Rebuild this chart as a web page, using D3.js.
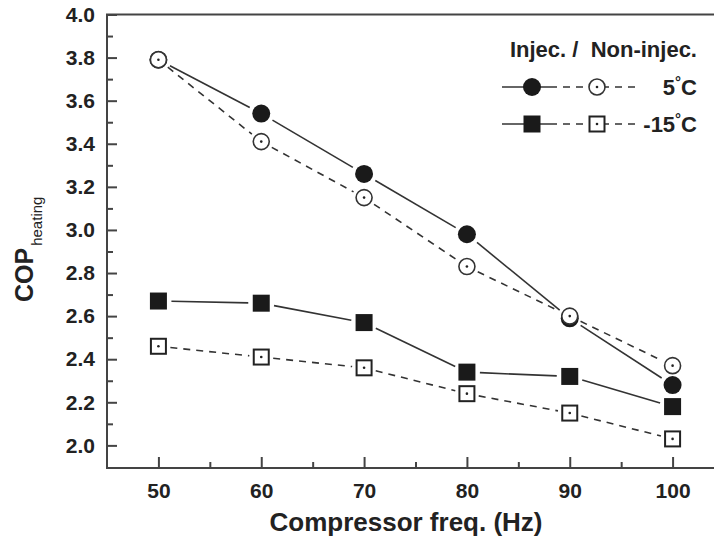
<!DOCTYPE html>
<html>
<head>
<meta charset="utf-8">
<script src="https://cdn.jsdelivr.net/npm/d3@7"></script>
<style>
  body { margin: 0; background: #fff; }
  text { font-family: "Liberation Sans", Arial, sans-serif; font-weight: bold; fill: #222; }
</style>
</head>
<body>
<div id="chart"></div>
<script>
var freq = [50, 60, 70, 80, 90, 100];
var injec5 = [3.79, 3.54, 3.26, 2.98, 2.59, 2.28];
var nonInjec5 = [3.79, 3.41, 3.15, 2.83, 2.60, 2.37];
var injecM15 = [2.67, 2.66, 2.57, 2.34, 2.32, 2.18];
var nonInjecM15 = [2.46, 2.41, 2.36, 2.24, 2.15, 2.03];

var xTicks = [50, 60, 70, 80, 90, 100];
var xMinor = [55, 65, 75, 85, 95];
var yTicks = [2.0, 2.2, 2.4, 2.6, 2.8, 3.0, 3.2, 3.4, 3.6, 3.8, 4.0];
var yMinor = [2.1, 2.3, 2.5, 2.7, 2.9, 3.1, 3.3, 3.5, 3.7, 3.9];

var legendRows = [
  { label: "5", shape: "circle" },
  { label: "-15", shape: "square" }
];

var width = 714, height = 545;
var ink = "#222", lineCol = "#333", frameCol = "#444";

var svg = d3.select("#chart").append("svg")
  .attr("width", width)
  .attr("height", height);

var x = d3.scaleLinear().domain([45, 105]).range([107, 724]);
var y = d3.scaleLinear().domain([1.895, 4.0]).range([468, 14.5]);

// frame
svg.append("rect")
  .attr("x", x(45)).attr("y", y(4.0))
  .attr("width", x(105) - x(45)).attr("height", y(1.895) - y(4.0))
  .attr("fill", "none").attr("stroke", frameCol).attr("stroke-width", 2);

// axes
function styleAxis(g) {
  g.select(".domain").remove();
  g.selectAll(".tick line").attr("stroke", frameCol).attr("stroke-width", 2);
  g.selectAll("text").attr("fill", ink).style("font-size", "21px");
}

svg.append("g")
  .attr("transform", "translate(0," + y(1.895) + ")")
  .call(d3.axisBottom(x).tickValues(xTicks).tickSize(-11).tickPadding(15).tickFormat(d3.format("d")))
  .call(styleAxis);
svg.append("g")
  .attr("transform", "translate(0," + y(1.895) + ")")
  .call(d3.axisBottom(x).tickValues(xMinor).tickSize(-6).tickFormat(""))
  .call(styleAxis);
svg.append("g")
  .attr("transform", "translate(" + x(45) + ",0)")
  .call(d3.axisLeft(y).tickValues(yTicks).tickSize(-10).tickPadding(12).tickFormat(d3.format(".1f")))
  .call(styleAxis);
svg.append("g")
  .attr("transform", "translate(" + x(45) + ",0)")
  .call(d3.axisLeft(y).tickValues(yMinor).tickSize(-6).tickFormat(""))
  .call(styleAxis);

// axis titles
svg.append("text")
  .attr("x", 406).attr("y", 531)
  .attr("text-anchor", "middle")
  .style("font-size", "26px")
  .text("Compressor freq. (Hz)");

var yt = svg.append("text")
  .attr("transform", "translate(33,302) rotate(-90)")
  .style("font-size", "25px");
yt.append("tspan").text("COP");
yt.append("tspan").attr("dy", 9).attr("dx", 2)
  .style("font-size", "15px").style("font-weight", "normal").text("heating");

// series lines, cut short around the markers
function drawSeries(vals, dashed, gap) {
  var pts = vals.map(function(v, i) { return [x(freq[i]), y(v)]; });
  for (var i = 0; i < pts.length - 1; i++) {
    var p0 = pts[i], p1 = pts[i + 1];
    var dx = p1[0] - p0[0], dy = p1[1] - p0[1];
    var len = Math.sqrt(dx * dx + dy * dy);
    var ux = dx / len, uy = dy / len;
    svg.append("line")
      .attr("x1", p0[0] + ux * gap).attr("y1", p0[1] + uy * gap)
      .attr("x2", p1[0] - ux * gap).attr("y2", p1[1] - uy * gap)
      .attr("stroke", lineCol)
      .attr("stroke-width", 1.6)
      .attr("stroke-dasharray", dashed ? "7,6" : null);
  }
}

drawSeries(injec5, false, 13);
drawSeries(nonInjec5, true, 12);
drawSeries(injecM15, false, 13);
drawSeries(nonInjecM15, true, 12);

function filledCircle(g, cx, cy) {
  g.append("circle").attr("cx", cx).attr("cy", cy).attr("r", 9).attr("fill", "#1a1a1a");
}
function openCircle(g, cx, cy) {
  g.append("circle").attr("cx", cx).attr("cy", cy).attr("r", 8)
    .attr("fill", "#fff").attr("stroke", "#333").attr("stroke-width", 1.6);
  g.append("circle").attr("cx", cx).attr("cy", cy).attr("r", 1.3).attr("fill", "#222");
}
function filledSquare(g, cx, cy) {
  g.append("rect").attr("x", cx - 8.5).attr("y", cy - 8.5).attr("width", 17).attr("height", 17).attr("fill", "#1a1a1a");
}
function openSquare(g, cx, cy) {
  g.append("rect").attr("x", cx - 7.5).attr("y", cy - 7.5).attr("width", 15).attr("height", 15)
    .attr("fill", "#fff").attr("stroke", "#222").attr("stroke-width", 2);
  g.append("circle").attr("cx", cx).attr("cy", cy).attr("r", 1.3).attr("fill", "#222");
}

var marks = svg.append("g");
injec5.forEach(function(v, i) { filledCircle(marks, x(freq[i]), y(v)); });
injecM15.forEach(function(v, i) { filledSquare(marks, x(freq[i]), y(v)); });
nonInjec5.forEach(function(v, i) { openCircle(marks, x(freq[i]), y(v)); });
nonInjecM15.forEach(function(v, i) { openSquare(marks, x(freq[i]), y(v)); });

// legend
var lg = svg.append("g");
lg.append("text")
  .attr("x", 697).attr("y", 57)
  .attr("text-anchor", "end")
  .style("font-size", "22px")
  .style("white-space", "pre")
  .text("Injec. /  Non-injec.");

legendRows.forEach(function(r, i) {
  var ly = 87 + i * 37;
  lg.append("line").attr("x1", 502).attr("x2", 557).attr("y1", ly).attr("y2", ly)
    .attr("stroke", lineCol).attr("stroke-width", 1.6);
  lg.append("line").attr("x1", 563).attr("x2", 640).attr("y1", ly).attr("y2", ly)
    .attr("stroke", lineCol).attr("stroke-width", 1.6).attr("stroke-dasharray", "7,6");
  if (r.shape === "circle") {
    filledCircle(lg, 532, ly);
    openCircle(lg, 597, ly);
  } else {
    filledSquare(lg, 532, ly);
    openSquare(lg, 597, ly);
  }
  var t = lg.append("text")
    .attr("x", 697).attr("y", ly + 8)
    .attr("text-anchor", "end")
    .style("font-size", "22px");
  t.append("tspan").text(r.label);
  t.append("tspan").attr("dy", -8).style("font-size", "15px").text("°");
  t.append("tspan").attr("dy", 8).text("C");
});
</script>
</body>
</html>
